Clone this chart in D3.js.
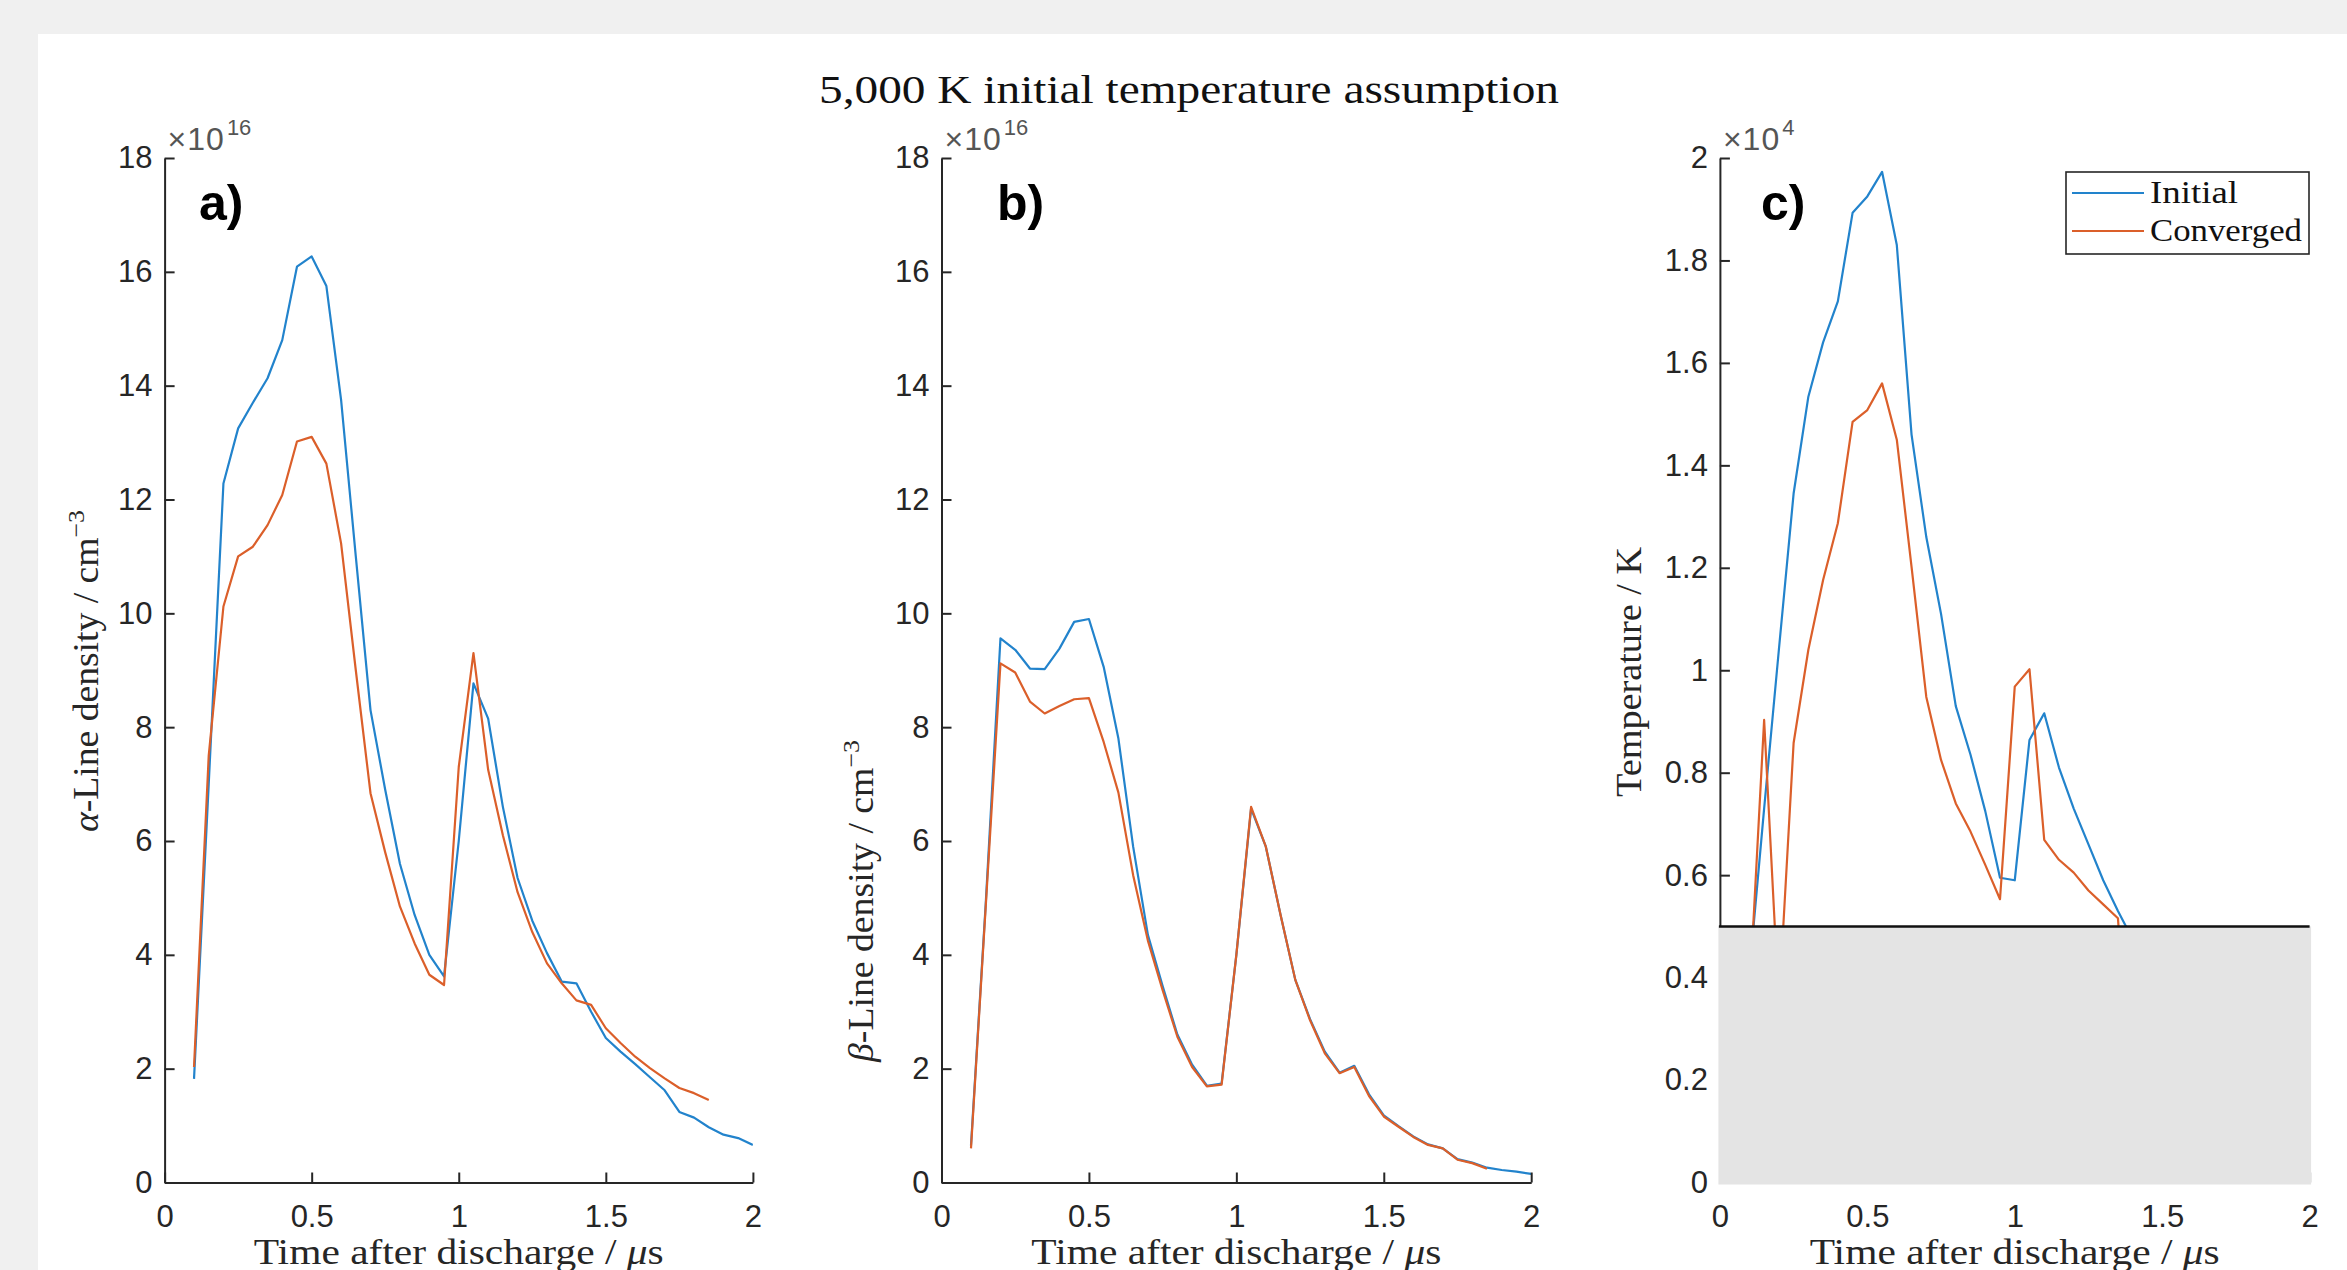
<!DOCTYPE html>
<html>
<head>
<meta charset="utf-8">
<script src="https://cdn.jsdelivr.net/npm/d3@7"></script>
<style>
  body { margin: 0; background: #f0f0f0; }
  svg { display: block; }
</style>
</head>
<body>
<div id="chart"></div>
<script>
// time axis (microseconds after discharge)
const timeFull = [0.1, 0.15, 0.2, 0.25, 0.3, 0.35, 0.4, 0.45, 0.5, 0.55, 0.6, 0.65, 0.7, 0.75, 0.8, 0.85, 0.9, 0.95,
                  1.0, 1.05, 1.1, 1.15, 1.2, 1.25, 1.3, 1.35, 1.4, 1.45, 1.5, 1.55, 1.6, 1.65, 1.7, 1.75, 1.8, 1.85, 1.9, 1.95, 2.0];
const timeConv = [0.1, 0.15, 0.2, 0.25, 0.3, 0.35, 0.4, 0.45, 0.5, 0.55, 0.6, 0.65, 0.7, 0.75, 0.8, 0.85, 0.9, 0.95,
                  1.0, 1.05, 1.1, 1.15, 1.2, 1.25, 1.3, 1.35, 1.4, 1.45, 1.5, 1.55, 1.6, 1.65, 1.7, 1.75, 1.8, 1.85];
const timeTemp = [0.1, 0.15, 0.2, 0.25, 0.3, 0.35, 0.4, 0.45, 0.5, 0.55, 0.6, 0.65, 0.7, 0.75, 0.8, 0.85, 0.9, 0.95,
                  1.0, 1.05, 1.1, 1.15, 1.2, 1.25, 1.3, 1.35, 1.4];

// alpha-line density, x10^16 cm^-3
const alphaInitial = [1.82, 7.0, 12.28, 13.25, 13.7, 14.13, 14.8, 16.09, 16.27, 15.75, 13.75, 11.0, 8.3, 6.9, 5.6, 4.7, 4.0, 3.62,
                      6.0, 8.77, 8.15, 6.6, 5.35, 4.6, 4.03, 3.53, 3.5, 3.0, 2.54, 2.3, 2.08, 1.85, 1.62, 1.24, 1.14, 0.97, 0.84, 0.78, 0.66];
const alphaConverged = [2.03, 7.5, 10.12, 11.0, 11.17, 11.55, 12.08, 13.02, 13.1, 12.63, 11.23, 9.0, 6.84, 5.8, 4.85, 4.2, 3.65, 3.47,
                        7.3, 9.3, 7.25, 6.1, 5.1, 4.4, 3.85, 3.5, 3.2, 3.12, 2.71, 2.45, 2.21, 2.01, 1.83, 1.66, 1.57, 1.45];

// beta-line density, x10^16 cm^-3
const betaInitial = [0.65, 4.9, 9.56, 9.36, 9.03, 9.02, 9.38, 9.85, 9.9, 9.06, 7.8, 5.9, 4.35, 3.45, 2.6, 2.07, 1.7, 1.74,
                     4.0, 6.57, 5.9, 4.7, 3.56, 2.87, 2.3, 1.93, 2.05, 1.55, 1.18, 0.99, 0.81, 0.67, 0.6, 0.41, 0.35, 0.26, 0.22, 0.19, 0.15];
const betaConverged = [0.6, 4.85, 9.12, 8.96, 8.45, 8.24, 8.37, 8.49, 8.51, 7.74, 6.85, 5.4, 4.25, 3.38, 2.56, 2.03, 1.69, 1.72,
                       4.0, 6.6, 5.9, 4.7, 3.56, 2.85, 2.27, 1.92, 2.03, 1.52, 1.16, 0.98, 0.8, 0.66, 0.6, 0.40, 0.34, 0.24];

// temperature, K
const tempInitial = [4100, 7300, 10400, 13450, 15340, 16400, 17200, 18930, 19250, 19730, 18300, 14600, 12600, 11100, 9300, 8350, 7250, 5950,
                     5900, 8640, 9160, 8100, 7300, 6600, 5900, 5300, 4750];
const tempConverged = [3600, 9030, 3470, 8580, 10400, 11760, 12870, 14850, 15080, 15600, 14500, 12020, 9480, 8250, 7400, 6850, 6200, 5530,
                       9680, 10020, 6690, 6300, 6050, 5700, 5430, 5160, 1000];

const xTicks = [0, 0.5, 1, 1.5, 2];
const densTicks = [0, 2, 4, 6, 8, 10, 12, 14, 16, 18];
const tempTicks = [0, 2000, 4000, 6000, 8000, 10000, 12000, 14000, 16000, 18000, 20000];
const tempFloor = 5000;
const seriesNames = ["Initial", "Converged"];
const colors = ["#2283cc", "#db5f2a"];

const W = 2347, H = 1270;
const plotTop = 158, plotBottom = 1182.5;
const serif = "'Liberation Serif', 'DejaVu Serif', serif";
const sans = "'Liberation Sans', Arial, sans-serif";
const axisColor = "#262626";

let svg = d3.select("#chart").append("svg")
    .attr("width", W)
    .attr("height", H);

svg.append("rect").attr("width", W).attr("height", H).attr("fill", "#f0f0f0");
svg.append("rect").attr("x", 38).attr("y", 34).attr("width", W - 38).attr("height", H - 34).attr("fill", "#fff");

// title
svg.append("text")
    .attr("x", 1189).attr("y", 103)
    .attr("text-anchor", "middle")
    .attr("textLength", 740).attr("lengthAdjust", "spacingAndGlyphs")
    .style("font-family", serif).style("font-size", "39px").style("fill", "#111")
    .text("5,000 K initial temperature assumption");

function drawPanel(p) {
    let x = d3.scaleLinear().domain([0, 2]).range([p.x0, p.x1]);
    let y = d3.scaleLinear().domain(p.yDomain).range([plotBottom, plotTop]);
    let g = svg.append("g");

    let line = d3.line()
        .x(d => x(d[0]))
        .y(d => y(d[1]));

    g.append("defs").append("clipPath").attr("id", "clip" + p.id)
        .append("rect").attr("x", p.x0).attr("y", plotTop).attr("width", p.x1 - p.x0).attr("height", plotBottom - plotTop);

    p.series.forEach((s, i) => {
        g.append("path")
            .datum(s.t.map((t, k) => [t, s.v[k]]))
            .attr("clip-path", "url(#clip" + p.id + ")")
            .attr("fill", "none")
            .attr("stroke", colors[i])
            .attr("stroke-width", 2.2)
            .attr("stroke-linejoin", "round")
            .attr("d", line);
    });

    // x axis
    let xa = g.append("g")
        .attr("transform", "translate(0," + plotBottom + ")")
        .call(d3.axisBottom(x).tickValues(xTicks).tickFormat(d3.format("")).tickSizeInner(-10).tickSizeOuter(0).tickPadding(22));
    // y axis
    let ya = g.append("g")
        .attr("transform", "translate(" + p.x0 + ",0)")
        .call(d3.axisLeft(y).tickValues(p.yTicks).tickFormat(p.yFormat).tickSizeInner(-10).tickSizeOuter(0).tickPadding(12));

    [xa, ya].forEach(a => {
        a.select(".domain").attr("stroke", axisColor).attr("stroke-width", 2);
        a.selectAll(".tick line").attr("stroke", axisColor).attr("stroke-width", 2);
        a.selectAll(".tick text").style("font-family", sans).style("font-size", "31px").style("fill", axisColor);
    });

    // shaded region below the temperature floor (panel c)
    if (p.floor !== undefined) {
        g.append("rect")
            .attr("x", p.x0 - 1.5).attr("y", y(p.floor))
            .attr("width", p.x1 - p.x0 + 3).attr("height", plotBottom - y(p.floor) + 2)
            .attr("fill", "#e4e4e4");
        g.append("line")
            .attr("x1", p.x0 - 1).attr("x2", p.x1)
            .attr("y1", y(p.floor)).attr("y2", y(p.floor))
            .attr("stroke", "#111").attr("stroke-width", 2.5);
    }

    // exponent label
    let ex = g.append("text")
        .attr("x", p.x0 + 3).attr("y", 150)
        .style("font-family", sans).style("font-size", "32px").style("fill", "#555");
    ex.append("tspan").style("letter-spacing", "1px").text("\u00d710");
    ex.append("tspan").attr("dx", 2).attr("dy", -15).style("font-size", "22px").text(p.exponent);

    // panel letter
    g.append("text")
        .attr("x", p.letterX).attr("y", 220)
        .style("font-family", sans).style("font-size", "50px").style("font-weight", "bold").style("fill", "#000")
        .text(p.letter);

    // x label
    let xl = g.append("text")
        .attr("x", (p.x0 + p.x1) / 2).attr("y", 1264)
        .attr("text-anchor", "middle")
        .attr("textLength", 410).attr("lengthAdjust", "spacingAndGlyphs")
        .style("font-family", serif).style("font-size", "36px").style("fill", axisColor);
    xl.append("tspan").text("Time after discharge / ");
    xl.append("tspan").style("font-style", "italic").text("\u03bc");
    xl.append("tspan").text("s");

    // y label
    let yl = g.append("text")
        .attr("transform", "translate(" + p.yLabelX + "," + p.yLabelY + ") rotate(-90)")
        .attr("text-anchor", "middle")
        .attr("textLength", p.yLabelLen).attr("lengthAdjust", "spacingAndGlyphs")
        .style("font-family", serif).style("font-size", "35px").style("fill", axisColor);
    p.yLabel.forEach(part => {
        let ts = yl.append("tspan").text(part.text);
        if (part.italic) ts.style("font-style", "italic");
        if (part.sup) ts.attr("dy", -14).style("font-size", "24px");
    });
}

drawPanel({
    id: "a", x0: 164.6, x1: 752.9, yDomain: [0, 18], yTicks: densTicks, yFormat: d3.format(""),
    exponent: "16", letter: "a)", letterX: 199, yLabelX: 98, yLabelY: 671, yLabelLen: 322,
    yLabel: [{text: "\u03b1", italic: true}, {text: "-Line density / cm"}, {text: "\u22123", sup: true}],
    series: [{t: timeFull, v: alphaInitial}, {t: timeConv, v: alphaConverged}]
});

drawPanel({
    id: "b", x0: 941.5, x1: 1531.2, yDomain: [0, 18], yTicks: densTicks, yFormat: d3.format(""),
    exponent: "16", letter: "b)", letterX: 997, yLabelX: 873, yLabelY: 901, yLabelLen: 322,
    yLabel: [{text: "\u03b2", italic: true}, {text: "-Line density / cm"}, {text: "\u22123", sup: true}],
    series: [{t: timeFull, v: betaInitial}, {t: timeConv, v: betaConverged}]
});

drawPanel({
    id: "c", x0: 1719.9, x1: 2309.6, yDomain: [0, 20000], yTicks: tempTicks, yFormat: d => d3.format("")(+(d / 1e4).toFixed(1)),
    exponent: "4", letter: "c)", letterX: 1761, yLabelX: 1641, yLabelY: 672, yLabelLen: 250, floor: tempFloor,
    yLabel: [{text: "Temperature / K"}],
    series: [{t: timeTemp, v: tempInitial}, {t: timeTemp, v: tempConverged}]
});

// legend
let lg = svg.append("g");
lg.append("rect")
    .attr("x", 2066).attr("y", 172).attr("width", 243).attr("height", 82)
    .attr("fill", "#fff").attr("stroke", axisColor).attr("stroke-width", 1.6);
const legendLen = [88, 152];
seriesNames.forEach((name, i) => {
    let ly = 193 + i * 38;
    lg.append("line")
        .attr("x1", 2072).attr("x2", 2144).attr("y1", ly).attr("y2", ly)
        .attr("stroke", colors[i]).attr("stroke-width", 2.2);
    lg.append("text")
        .attr("x", 2150).attr("y", ly + 10)
        .attr("textLength", legendLen[i]).attr("lengthAdjust", "spacingAndGlyphs")
        .style("font-family", serif).style("font-size", "31px").style("fill", "#111")
        .text(name);
});
</script>
</body>
</html>
